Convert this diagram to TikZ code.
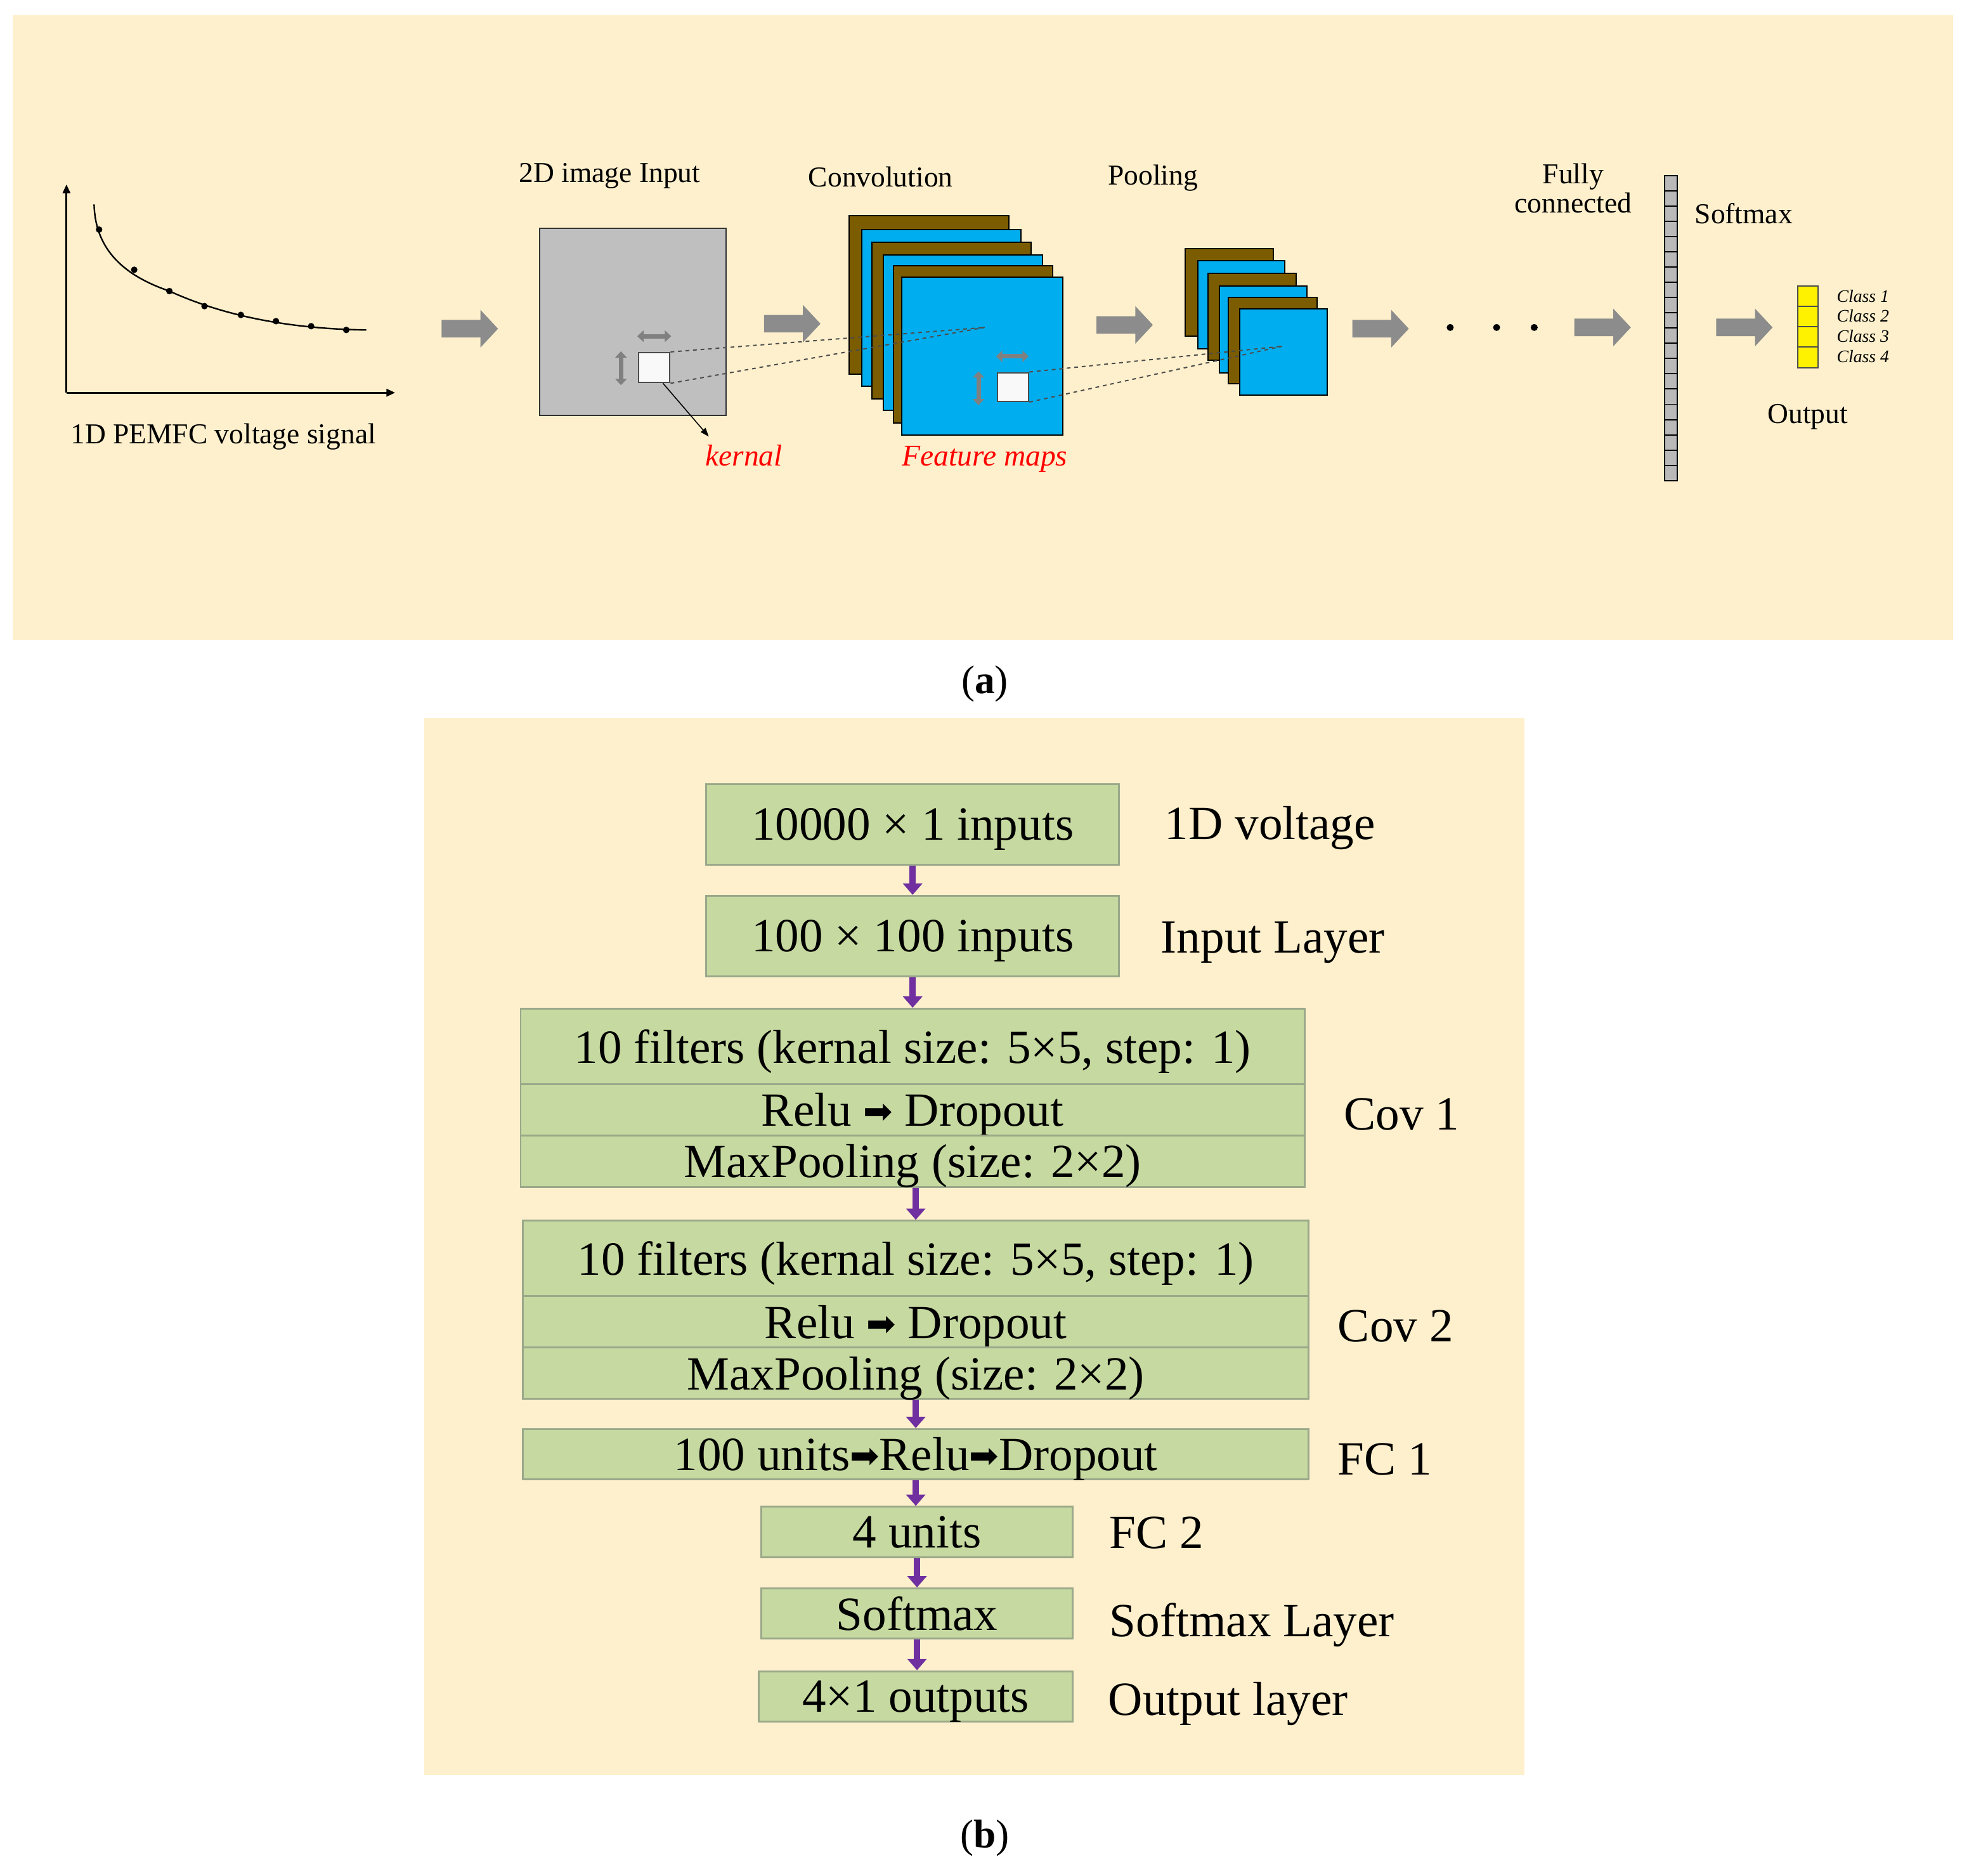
\documentclass[tikz,border=0pt]{standalone}
\usepackage{fontspec}
\setmainfont{Liberation Serif}
\newfontfamily\dvs{DejaVu Sans}
\usetikzlibrary{arrows.meta}
\definecolor{bgy}{HTML}{FEF0CC}
\definecolor{gbox}{HTML}{C6D9A0}
\definecolor{gbord}{HTML}{9AA88A}
\definecolor{brn}{HTML}{7B5C00}
\definecolor{cyn}{HTML}{00AEEF}
\definecolor{pur}{HTML}{7030A0}
\newcommand{\fs}[1]{\fontsize{#1}{#1}\selectfont}
\newcommand{\rar}{{\dvs\fs{28}\raisebox{2pt}{➡}}}
\begin{document}
\begin{tikzpicture}[x=1pt,y=-1pt,
  lbl/.style={font=\fs{23}},
  cls/.style={font=\fs{14}\itshape,anchor=west,inner sep=0pt},
  gb/.style={draw=gbord,line width=1.5pt,fill=gbox,inner sep=0pt,font=\fs{38},text depth=0pt},
  rl/.style={font=\fs{38},anchor=west},
  pa/.style={-{Triangle[length=9pt,width=15pt]},line width=5pt,pur},
  fmap/.style={draw=black,line width=1pt},
  dsh/.style={dashed,gray!60!black,line width=1pt},
  da/.style={gray,line width=3.5pt,{Triangle[length=5pt,width=9pt]}-{Triangle[length=5pt,width=9pt]}}]
\useasboundingbox (0,0) rectangle (1564,1495);
\fill[white] (0,0) rectangle (1564,1495);
% panel a
\fill[bgy] (10,12) rectangle (1557,510);
\draw[line width=1.5pt,-{Triangle[length=7pt,width=6pt]}] (53,313) -- (53,147);
\draw[line width=1.5pt,-{Triangle[length=7pt,width=6pt]}] (53,313) -- (315,313);
\draw[line width=1.2pt] (75,163) .. controls (76,200) and (100,220) .. (135,232) .. controls (170,248) and (220,262) .. (292,263);
\foreach \p in {(79,183),(107,215),(135,232),(163,244),(192,251),(220,256),(248,260),(276,263)} \fill \p circle (2.6pt);
\node[lbl] (sig) at (178,348) {1D PEMFC voltage signal};
\foreach \x/\y in {352/262,609/258,874/259,1078/262,1255/261,1368/261}
  \fill[gray!90] (\x,\y-7) -- (\x+31,\y-7) -- (\x+31,\y-15) -- (\x+45,\y) -- (\x+31,\y+15) -- (\x+31,\y+7) -- (\x,\y+7) -- cycle;
\node[lbl] (t2d) at (486,140) {2D image Input};
\node[draw=black!80,line width=1pt,fill=gray!50,minimum width=149pt,minimum height=149pt,inner sep=0pt] (img) at (504.5,256.5) {};
\node[draw=black!70,line width=1pt,fill=white!95!gray,minimum width=25pt,minimum height=24pt,inner sep=0pt] (k1) at (521.5,293) {};
\draw[da] (508,268) -- (535,268);
\draw[da] (495,280) -- (495,307);
\coordinate (c1) at (785,261);
\node[font=\fs{24}\itshape,text=red] (kt) at (593,363) {kernal};
\draw[line width=0.8pt,-{Triangle[length=7pt,width=5pt]}] (k1.south east) ++(-6,0) -- (565,348);
\node[lbl] (tconv) at (702,141) {Convolution};
\fill[brn,fmap] (677,172) rectangle (804,298);
\fill[cyn,fmap] (687,183) rectangle (814,308);
\fill[brn,fmap] (695,193) rectangle (822,318);
\fill[cyn,fmap] (704,203) rectangle (831,327);
\fill[brn,fmap] (712,212) rectangle (839,337);
\fill[cyn,fmap] (719,221) rectangle (847,347);
\draw[dsh] (k1.north east) -- (c1);
\draw[dsh] (k1.south east) -- (c1);
\node[draw=black!70,line width=1pt,fill=white!95!gray,minimum width=25pt,minimum height=23pt,inner sep=0pt] (k2) at (807.5,308.5) {};
\draw[da] (794,284) -- (820,284);
\draw[da] (780,296) -- (780,323);
\node[font=\fs{24}\itshape,text=red] (fm) at (785,366) {Feature maps};
\node[lbl] (tpool) at (919,142) {Pooling};
\fill[brn,fmap] (945,198) rectangle (1015,268);
\fill[cyn,fmap] (955,208) rectangle (1024,278);
\fill[brn,fmap] (963,218) rectangle (1033,287);
\fill[cyn,fmap] (972,228) rectangle (1042,297);
\fill[brn,fmap] (979,237) rectangle (1050,306);
\fill[cyn,fmap] (988,246) rectangle (1058,315);
\coordinate (c2) at (1022,276);
\draw[dsh] (k2.north east) -- (c2);
\draw[dsh] (k2.south east) -- (c2);
\foreach \x in {1156,1193,1223} \fill (\x,261) circle (2.8pt);
\node[lbl,align=center] (tfc) at (1254,150) {Fully\\connected};
\foreach \i in {0,...,19} \draw[fill=gray!55,line width=1pt] (1327,140+\i*12.15) rectangle (1337,140+\i*12.15+12.15);
\node[lbl] (tsm) at (1390,170) {Softmax};
\foreach \i in {0,...,3} \draw[fill=yellow,draw=black!70,line width=1pt] (1433,228+\i*16.25) rectangle (1449,228+\i*16.25+16.25);
\node[cls] at (1464,236) {Class 1};
\node[cls] at (1464,252) {Class 2};
\node[cls] at (1464,268) {Class 3};
\node[cls] at (1464,284) {Class 4};
\node[lbl] (tout) at (1441,332) {Output};
\node[font=\fs{32}] (la) at (785,545) {(\textbf{a})};
% panel b
\fill[bgy] (338,572) rectangle (1215,1415);
\node[gb,minimum width=329pt,minimum height=64pt] (b1) at (727.5,657) {10000 × 1 inputs};
\node[rl] at (925,660) {1D voltage};
\node[gb,minimum width=329pt,minimum height=64pt] (b2) at (727.5,746) {100 × 100 inputs};
\node[rl] at (922,751) {Input Layer};
\node[gb,minimum width=625pt,minimum height=60pt] (c1a) at (727.5,834) {10 filters (kernal size: 5×5, step: 1)};
\node[gb,minimum width=625pt,minimum height=41pt] (c1b) at (727.5,884.5) {Relu \rar\ Dropout};
\node[gb,minimum width=625pt,minimum height=41pt] (c1c) at (727.5,925.5) {MaxPooling (size: 2×2)};
\node[rl] at (1068,888) {Cov 1};
\node[gb,minimum width=626pt,minimum height=60pt] (c2a) at (730,1003) {10 filters (kernal size: 5×5, step: 1)};
\node[gb,minimum width=626pt,minimum height=41pt] (c2b) at (730,1053.5) {Relu \rar\ Dropout};
\node[gb,minimum width=626pt,minimum height=41pt] (c2c) at (730,1094.5) {MaxPooling (size: 2×2)};
\node[rl] at (1063,1057) {Cov 2};
\node[gb,minimum width=626pt,minimum height=40pt] (f1) at (730,1159) {100 units\rar Relu\rar Dropout};
\node[rl] at (1063,1163) {FC 1};
\node[gb,minimum width=248pt,minimum height=40pt] (f2) at (731,1221) {4 units};
\node[rl] at (881,1222) {FC 2};
\node[gb,minimum width=248pt,minimum height=40pt] (sm) at (731,1286) {Softmax};
\node[rl] at (881,1295) {Softmax Layer};
\node[gb,minimum width=250pt,minimum height=40pt] (ou) at (730,1352) {4×1 outputs};
\node[rl] at (880,1358) {Output layer};
\draw[pa] (b1.south) -- (b2.north);
\draw[pa] (b2.south) -- (c1a.north);
\draw[pa] (c2a.north |- c1c.south) -- (c2a.north);
\draw[pa] (c2c.south) -- (f1.north);
\draw[pa] (f1.south) -- (f1.south |- f2.north);
\draw[pa] (f2.south) -- (sm.north);
\draw[pa] (sm.south) -- (sm.south |- ou.north);
\node[font=\fs{32}] (lb) at (785,1465) {(\textbf{b})};
\end{tikzpicture}
\end{document}
